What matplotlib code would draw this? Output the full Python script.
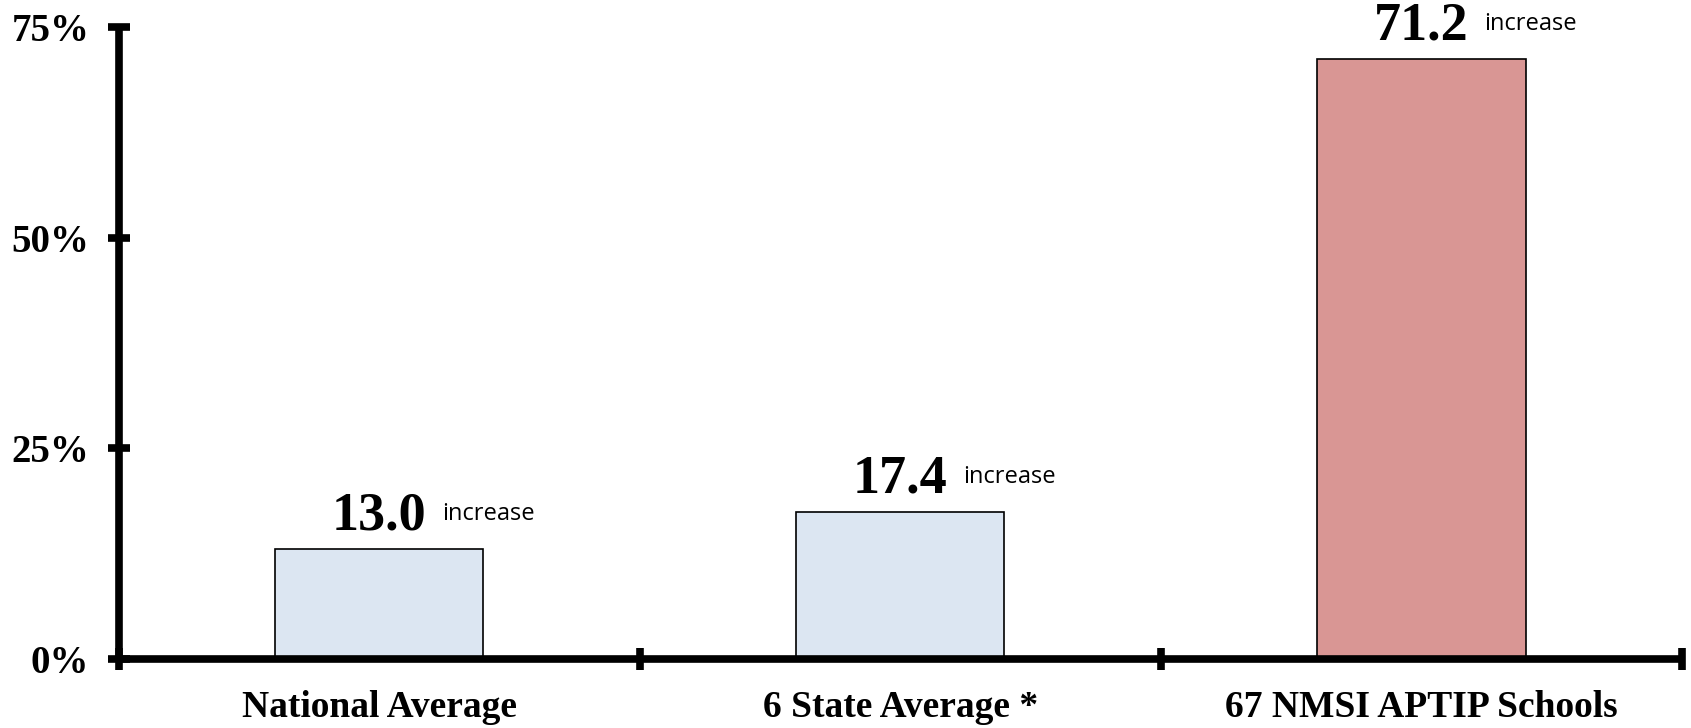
import matplotlib
matplotlib.use("Agg")
import matplotlib.pyplot as plt

categories = ["National Average", "6 State Average *", "67 NMSI APTIP Schools"]
values = [13.0, 17.4, 71.2]
value_labels = ["13.0", "17.4", "71.2"]
suffix = "increase"
yticks = [0, 25, 50, 75]
ytick_labels = ["0%", "25%", "50%", "75%"]
bar_colors = ["#DCE6F2", "#DCE6F2", "#D99694"]

fig = plt.figure(figsize=(16.91, 7.28), dpi=100)
ax = fig.add_axes([0.0701, 0.0948, 0.9946 - 0.0701, 0.963 - 0.0948])

x = list(range(len(categories)))
ax.bar(x, values, width=0.4, color=bar_colors, edgecolor="black", linewidth=1.2, zorder=2)

ax.set_xlim(-0.5, len(categories) - 0.5)
ax.set_ylim(0, 75)

for s in ["top", "right"]:
    ax.spines[s].set_visible(False)
for s in ["left", "bottom"]:
    ax.spines[s].set_linewidth(5.5)
    ax.spines[s].set_zorder(3)
    ax.spines[s].set_capstyle("butt")

serif = "Liberation Serif"
ax.set_yticks(yticks)
ax.set_yticklabels(ytick_labels, fontfamily=serif, fontweight="bold", fontsize=28)
ax.tick_params(axis="y", direction="inout", length=16, width=5.5, pad=13)

ax.set_xticks([i - 0.5 for i in range(len(categories) + 1)])
ax.set_xticklabels([])
ax.set_xticks(x, minor=True)
ax.set_xticklabels(categories, minor=True, fontfamily=serif, fontweight="bold", fontsize=27)
ax.tick_params(axis="x", which="major", direction="inout", length=16, width=5.5)
ax.tick_params(axis="x", which="minor", length=0, pad=22)

for xi, v, lab in zip(x, values, value_labels):
    t = ax.annotate(lab, xy=(xi, v), xytext=(0, 14), textcoords="offset points",
                    ha="center", va="baseline", fontfamily=serif, fontweight="bold",
                    fontsize=39)
    ax.annotate(suffix, xy=(1, 0.5), xycoords=t, xytext=(11, 2),
                textcoords="offset points", ha="left", va="center",
                fontfamily="Open Sans", fontsize=17)

fig.savefig("out.png", dpi=100)
